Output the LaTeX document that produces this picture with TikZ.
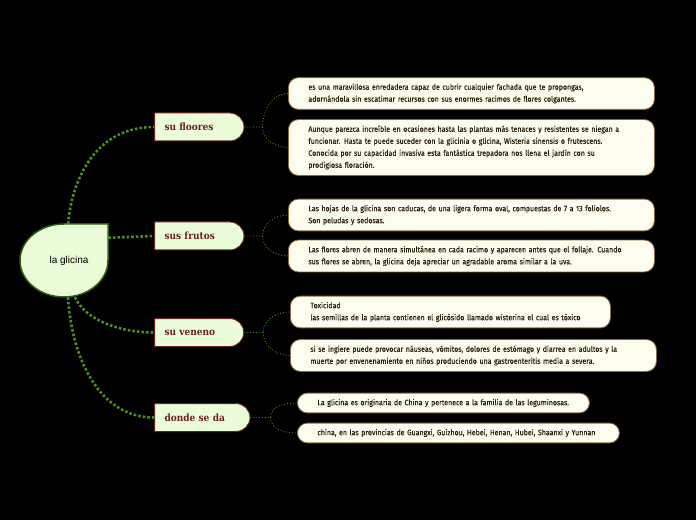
\documentclass[tikz,border=0pt]{standalone}
\usepackage{fontspec}
\setmainfont{Fira Sans}[FakeStretch=0.9, FakeBold=0.3]
\newfontfamily\ramafont{DejaVu Serif Condensed}
\newfontfamily\centrofont{Liberation Sans}
\usetikzlibrary{shapes.misc}

\definecolor{corefondo}{HTML}{EBFCD9}
\definecolor{coreborde}{HTML}{2E5E10}
\definecolor{ramaborde}{HTML}{6B2222}
\definecolor{hojafondo}{HTML}{FCFDEF}
\definecolor{hojaborde}{HTML}{8A6A3C}
\definecolor{hojatexto}{HTML}{2A200C}
\definecolor{verde}{HTML}{4C8C1C}

\begin{document}
\begin{tikzpicture}[x=1pt,y=1pt,
    core/.style={draw=coreborde, fill=corefondo, line width=1.5pt},
    rama/.style={rounded rectangle, rounded rectangle left arc=none, draw=ramaborde,
      fill=corefondo, line width=1pt, text=ramaborde,
      font=\ramafont\bfseries\fontsize{10}{12}\selectfont, minimum height=28pt,
      inner xsep=10pt, text width=#1, align=left, anchor=west},
    hoja/.style={rectangle, rounded corners=10pt, draw=hojaborde, fill=hojafondo,
      line width=0.8pt, text=hojatexto, font=\fontsize{7.8}{12}\selectfont,
      inner xsep=20pt, inner ysep=6pt, text width=#1, align=left, anchor=west},
    enlace/.style={draw=verde, line width=2.6pt, dash pattern=on 2.6pt off 2pt},
    subenlace/.style={draw=verde, line width=0.9pt, dotted}]

  % Fondo
  \fill[black] (0,0) rectangle (696,520);
  \useasboundingbox (0,0) rectangle (696,520);

  % Nodo central
  \draw[core] (108,296) -- (108,259.5)
    arc[start angle=0, end angle=-90, x radius=44, y radius=36.5]
    arc[start angle=-90, end angle=-270, x radius=44, y radius=36.5] -- cycle;
  \node[minimum width=88pt, minimum height=73pt, font=\centrofont\fontsize{10}{12}\selectfont]
    (glicina) at (64,259.5) {\hspace*{10pt}la glicina};

  % Ramas
  \node[rama=69pt] (floores) at (154,393) {su floores};
  \node[rama=69pt] (frutos) at (154,284) {sus frutos};
  \node[rama=69pt] (veneno) at (154,187.5) {su veneno};
  \node[rama=75pt] (donde) at (154,102.5) {donde se da};

  % Hojas
  \node[hoja=326pt] (flor1) at (288,426.5) {es una maravillosa enredadera capaz de cubrir cualquier fachada que te propongas,\\ adornándola sin escatimar recursos con sus enormes racimos de flores colgantes.};
  \node[hoja=326pt] (flor2) at (288,372.5) {Aunque parezca increíble en ocasiones hasta las plantas más tenaces y resistentes se niegan a\\ funcionar. Hasta te puede suceder con la glicinia o glicina, Wisteria sinensis o frutescens.\\ Conocida por su capacidad invasiva esta fantástica trepadora nos llena el jardín con su\\ prodigiosa floración.};
  \node[hoja=326pt] (fruto1) at (288,305) {Las hojas de la glicina son caducas, de una ligera forma oval, compuestas de 7 a 13 foliolos.\\ Son peludas y sedosas.};
  \node[hoja=326pt] (fruto2) at (288,264) {Las flores abren de manera simultánea en cada racimo y aparecen antes que el follaje. Cuando\\ sus flores se abren, la glicina deja apreciar un agradable aroma similar a la uva.};
  \node[hoja=280pt] (veneno1) at (290,208) {Toxicidad\\ las semillas de la planta contienen el glicósido llamado wisterina el cual es tóxico};
  \node[hoja=326pt] (veneno2) at (290,164.5) {si se ingiere puede provocar náuseas, vómitos, dolores de estómago y diarrea en adultos y la\\ muerte por envenenamiento en niños produciendo una gastroenteritis media a severa.};
  \node[hoja=252pt] (donde1) at (297,117) {La glicina es originaria de China y pertenece a la familia de las leguminosas.};
  \node[hoja=282pt] (donde2) at (297,87) {china, en las provincias de Guangxi, Guizhou, Hebei, Henan, Hubei, Shaanxi y Yunnan};

  % Enlaces del centro a las ramas
  \draw[enlace] ([xshift=4pt]glicina.north) .. controls (72,340) and (95,393) .. (floores.west);
  \draw[enlace] ([yshift=-14pt]glicina.north east) -- (frutos.west);
  \draw[enlace] ([xshift=11pt]glicina.south) .. controls (85,200) and (120,187.5) .. (veneno.west);
  \draw[enlace] ([xshift=4pt]glicina.south) .. controls (72,160) and (100,102.5) .. (donde.west);

  % Enlaces de las ramas a las hojas
  \coordinate (hubfl) at ([xshift=18pt]floores.east);
  \coordinate (hubfr) at ([xshift=18pt]frutos.east);
  \coordinate (hubve) at ([xshift=19pt]veneno.east);
  \coordinate (hubdo) at ([xshift=20pt]donde.east);
  \draw[subenlace] (floores.east) -- (hubfl) to[out=90, in=180] (flor1.west)
    (hubfl) to[out=-90, in=180] (flor2.west);
  \draw[subenlace] (frutos.east) -- (hubfr) to[out=90, in=180] (fruto1.west)
    (hubfr) to[out=-90, in=180] (fruto2.west);
  \draw[subenlace] (veneno.east) -- (hubve) to[out=90, in=180] (veneno1.west)
    (hubve) to[out=-90, in=180] (veneno2.west);
  \draw[subenlace] (donde.east) -- (hubdo) to[out=90, in=180] (donde1.west)
    (hubdo) to[out=-90, in=180] (donde2.west);
\end{tikzpicture}
\end{document}
